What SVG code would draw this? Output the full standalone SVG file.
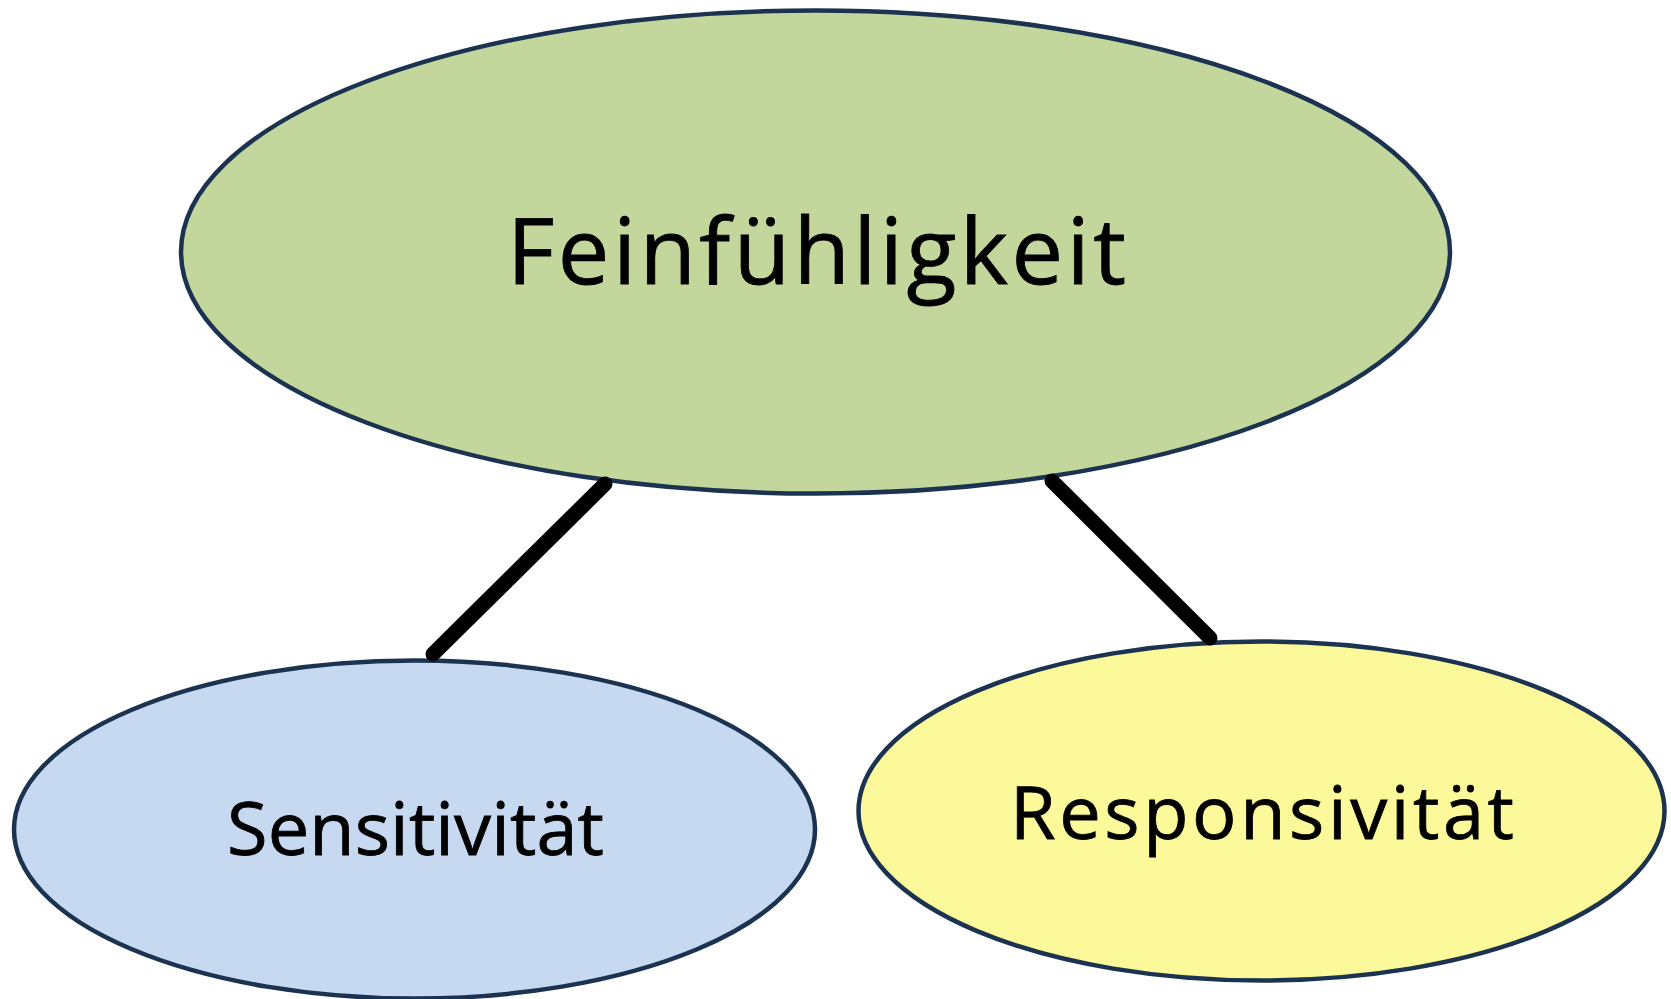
<svg xmlns="http://www.w3.org/2000/svg" width="1671" height="999" viewBox="0 0 1671 999">
<style>
.node{stroke:#1B3350;stroke-width:4.5}
.lbl{font-family:"Open Sans","Noto Sans","DejaVu Sans",sans-serif;font-weight:500;fill:#000;stroke:#000;stroke-width:0.8;text-anchor:middle}
.conn{stroke:#000;stroke-width:15;stroke-linecap:round;fill:none}
</style>
<rect width="1671" height="999" fill="#fff"/>
<g id="node-feinfuehligkeit">
<ellipse class="node" cx="815.5" cy="252" rx="634.5" ry="241.5" fill="#C3D69B"/>
<text class="lbl" x="816.5" y="284" font-size="92" textLength="619" lengthAdjust="spacing">Feinfühligkeit</text>
</g>
<g id="node-sensitivitaet">
<ellipse class="node" cx="414.5" cy="829.5" rx="400.5" ry="169" fill="#C6D9F1"/>
<text class="lbl" x="415.5" y="855" font-size="74" textLength="377" lengthAdjust="spacing">Sensitivität</text>
</g>
<g id="node-responsivitaet">
<ellipse class="node" cx="1261.5" cy="811" rx="403" ry="169.5" fill="#FBF99A"/>
<text class="lbl" x="1262" y="839" font-size="74" textLength="504" lengthAdjust="spacing">Responsivität</text>
</g>
<g id="connectors">
<line class="conn" x1="605" y1="484" x2="433" y2="654"/>
<line class="conn" x1="1052" y1="481" x2="1210" y2="638"/>
</g>
</svg>
